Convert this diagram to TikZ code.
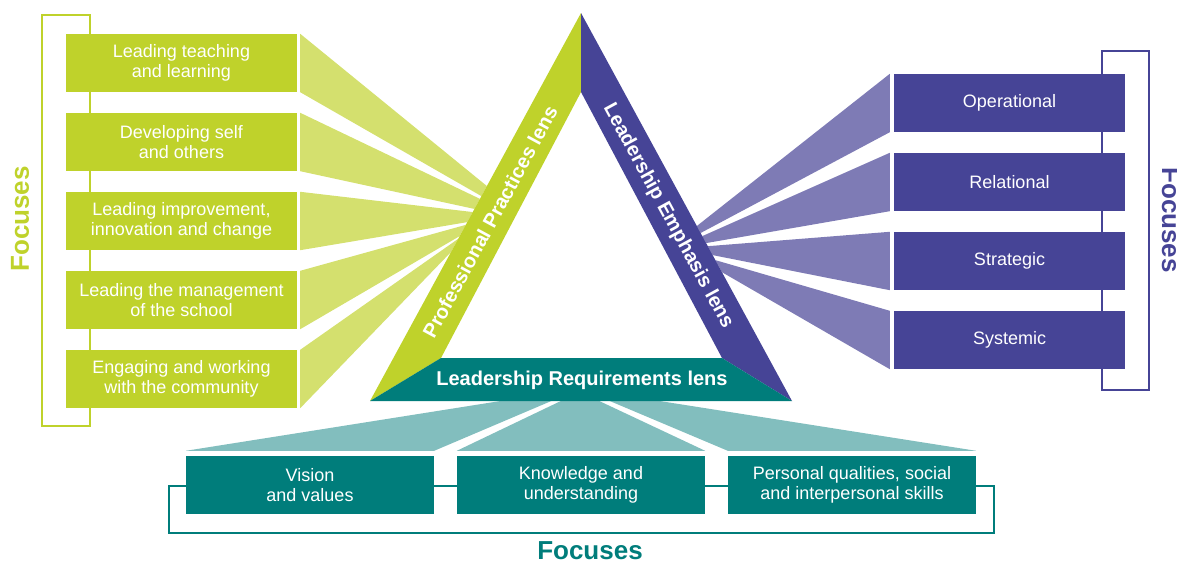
\documentclass[tikz,border=0pt]{standalone}
\usepackage{fontspec}
\setmainfont{Liberation Sans}
\usetikzlibrary{calc}
\definecolor{ppgreen}{RGB}{191,210,43}
\definecolor{ppfan}{RGB}{212,224,110}
\definecolor{lepurple}{RGB}{70,68,150}
\definecolor{lefan}{RGB}{126,123,181}
\definecolor{lrteal}{RGB}{0,125,123}
\definecolor{lrfan}{RGB}{130,190,190}
\tikzset{
  focusbox/.style={minimum height=58pt,inner sep=0pt,align=center,text=white,
    font=\fontsize{18}{19.5}\selectfont},
  ppbox/.style={focusbox,fill=ppgreen,minimum width=231pt},
  lebox/.style={focusbox,fill=lepurple,minimum width=231pt},
  lrbox/.style={focusbox,fill=lrteal,minimum width=248pt},
  lenslabel/.style={text=white,font=\fontsize{20}{20}\selectfont\bfseries,inner sep=0pt},
  focuslabel/.style={font=\fontsize{26}{26}\selectfont\bfseries,inner sep=0pt},
  bracket/.style={line width=1.5pt}
}
\begin{document}
\begin{tikzpicture}[x=1pt,y=-1pt]
    \useasboundingbox (0,0) rectangle (1177,562);
    %三角形顶点
        \coordinate (apex) at (581,13);
        \coordinate (mid) at (581,92);
        \coordinate (ppfoot) at (370,401);
        \coordinate (lefoot) at (792,401);
        \coordinate (ppin) at (441,358);
        \coordinate (lein) at (722,358);
    %括号
        \draw [bracket,ppgreen] (42,15) rectangle (90,426);
        \draw [bracket,lepurple] (1102,51) rectangle (1149,390);
        \draw [bracket,lrteal] (169,486) rectangle (994,533);
    %左侧方框
        \foreach \txt [count=\i] in {{Leading teaching\\and learning},{Developing self\\and others},
            {Leading improvement,\\innovation and change},{Leading the management\\of the school},
            {Engaging and working\\with the community}}
            \node [ppbox] (pp\i) at (181.5,{63+79*(\i-1)}) {\txt};
    %右侧方框
        \foreach \txt [count=\i] in {Operational,Relational,Strategic,Systemic}
            \node [lebox] (le\i) at (1009.5,{103+79*(\i-1)}) {\txt};
    %下方方框
        \node [lrbox] (lr1) at (310,485) {Vision\\and values};
        \node [lrbox] (lr2) at (581,485) {Knowledge and\\understanding};
        \node [lrbox] (lr3) at (852,485) {Personal qualities, social\\and interpersonal skills};
    %扇形
        \foreach \i/\a/\b in {1/0.446/0.472,2/0.479/0.505,3/0.513/0.539,4/0.546/0.575,5/0.582/0.616}
            \fill [ppfan] ([xshift=3pt]pp\i.north east) -- ([xshift=3pt]pp\i.south east)
                -- ($(apex)!\b!(ppfoot)$) -- ($(apex)!\a!(ppfoot)$) -- cycle;
        \foreach \i/\a/\b in {1/0.549/0.567,2/0.575/0.593,3/0.601/0.624,4/0.637/0.668}
            \fill [lefan] ([xshift=-4pt]le\i.north west) -- ([xshift=-4pt]le\i.south west)
                -- ($(apex)!\b!(lefoot)$) -- ($(apex)!\a!(lefoot)$) -- cycle;
        \foreach \i/\a/\b in {1/513/556,2/565/595,3/605/647}
            \fill [lrfan] ([yshift=5pt]lr\i.north west) -- ([yshift=5pt]lr\i.north east)
                -- (\b,399) -- (\a,399) -- cycle;
    %三个透镜
        \fill [ppgreen] (apex) -- (ppfoot) -- (ppin) -- (mid) -- cycle;
        \fill [lepurple] (apex) -- (mid) -- (lein) -- (lefoot) -- cycle;
        \fill [lrteal] (ppin) -- (lein) -- (lefoot) -- (ppfoot) -- cycle;
        \node [lenslabel,rotate=61.5] (pplens) at (490,222) {Professional Practices lens};
        \node [lenslabel,rotate=-61.5] (lelens) at (668,216) {Leadership Emphasis lens};
        \node [lenslabel] (lrlens) at (582,380) {Leadership Requirements lens};
    %标注
        \node [focuslabel,ppgreen,rotate=90] (ppfocus) at (20,219) {Focuses};
        \node [focuslabel,lepurple,rotate=-90] (lefocus) at (1171,220) {Focuses};
        \node [focuslabel,lrteal] (lrfocus) at (590,551) {Focuses};
\end{tikzpicture}
\end{document}
